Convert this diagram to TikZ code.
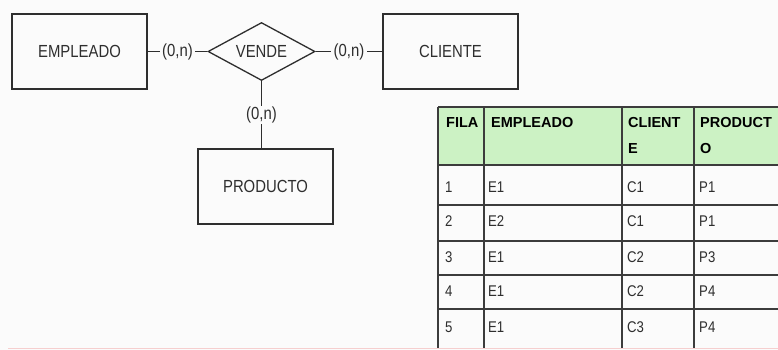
\documentclass[tikz,border=0pt]{standalone}
\usepackage{fontspec}
\setmainfont{Liberation Sans}
\usetikzlibrary{shapes.geometric}
\definecolor{PaperWhite}{HTML}{FBFBFB}
\definecolor{InkGray}{HTML}{2E2E2E}
\definecolor{GridGray}{HTML}{3C3C3C}
\definecolor{HeadGreen}{HTML}{CCF2C4}
\definecolor{EdgePink}{HTML}{F6CFCF}
\newcommand\squeeze[1]{\scalebox{0.85}[1]{#1}}

\begin{document}
\begin{tikzpicture}[x=1pt,y=-1pt,
    entity/.style={draw=InkGray,line width=1.3pt,minimum width=135pt,minimum height=75pt,inner sep=0pt,
      font=\fontsize{17.5}{20}\selectfont,text=InkGray},
    relation/.style={draw=InkGray,line width=1.3pt,diamond,aspect=1.85,minimum width=107pt,minimum height=58pt,
      inner sep=0pt,font=\fontsize{17.5}{20}\selectfont,text=InkGray},
    card/.style={fill=PaperWhite,inner xsep=2.5pt,inner ysep=1pt,font=\fontsize{17.5}{20}\selectfont,text=InkGray},
    link/.style={draw=InkGray,line width=1.3pt},
    grid/.style={draw=GridGray,line width=1.1pt},
    hdtext/.style={anchor=base west,inner sep=0pt,font=\fontsize{14.5}{16}\selectfont\bfseries,text=black},
    celltext/.style={anchor=west,inner sep=0pt,font=\fontsize{15.5}{18}\selectfont,text=InkGray}]
  \useasboundingbox[fill=PaperWhite] (0,0) rectangle (778,350);

  \node[entity] (emp) at (79.5,51.5) {\squeeze{EMPLEADO}};
  \node[relation] (vende) at (261.5,51.5) {\squeeze{VENDE}};
  \node[entity] (cli) at (450.5,51.5) {\squeeze{CLIENTE}};
  \node[entity] (prod) at (265.5,186.5) {\squeeze{PRODUCTO}};
  \draw[link] (emp) -- node[card] (c1) {\squeeze{(0,n)}} (vende);
  \draw[link] (vende) -- node[card] (c2) {\squeeze{(0,n)}} (cli);
  \draw[link] (vende.south) -- node[card] (c3) {\squeeze{(0,n)}} (vende.south |- prod.north);

  \fill[HeadGreen] (438,107) rectangle (778,165);
  \foreach \y in {107,165,205,241,275,309}
    \draw[grid] (438,\y) -- (778,\y);
  \foreach \x in {438,484,622,694}
    \draw[grid] (\x,107) -- (\x,348);
  \node[hdtext] (hfila) at (446,127) {FILA};
  \node[hdtext] (hemp) at (491,127) {EMPLEADO};
  \node[hdtext] (hcli) at (628,127) {CLIENT};
  \node[hdtext] (hcli2) at (628,153) {E};
  \node[hdtext] (hprod) at (700,127) {PRODUCT};
  \node[hdtext] (hprod2) at (700,153) {O};
  \foreach \n/\e/\c/\p/\y in {1/E1/C1/P1/187,2/E2/C1/P1/221,3/E1/C2/P3/257,4/E1/C2/P4/291,5/E1/C3/P4/327}{
    \node[celltext] (fila\n) at (445,\y) {\squeeze{\n}};
    \node[celltext] (emp\n) at (488,\y) {\squeeze{\e}};
    \node[celltext] (cli\n) at (627,\y) {\squeeze{\c}};
    \node[celltext] (prod\n) at (699,\y) {\squeeze{\p}};
  }
  \draw[EdgePink,line width=1.5pt] (8,348.5) -- (778,348.5);
\end{tikzpicture}
\end{document}
